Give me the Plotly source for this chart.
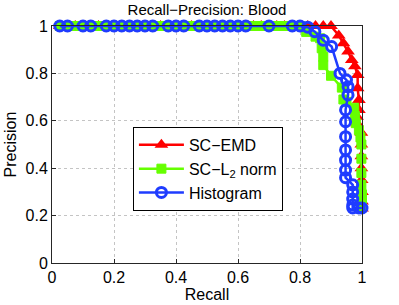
import plotly.graph_objects as go

# ---- data ----
step_r = [round(0.025 * i, 3) for i in range(1, 37)]

emd_recall = step_r + [0.925, 0.94, 0.955, 0.967, 0.977, 0.986, 0.986, 0.99, 0.99, 0.984, 0.984,
                       0.998, 0.998, 0.998, 0.998, 0.999, 1.0, 1.0, 1.0]
emd_prec = [1.0] * 36 + [0.96, 0.927, 0.892, 0.857, 0.83, 0.793, 0.737, 0.688, 0.646, 0.617, 0.59,
                         0.55, 0.5, 0.45, 0.4, 0.35, 0.3, 0.26, 0.23]

l2_recall = [round(0.025 * i, 3) for i in range(1, 33)] + [0.82, 0.85, 0.865, 0.87, 0.875, 0.875, 0.9,
                                                           0.935, 0.94, 0.95, 0.975, 0.977, 0.98, 0.99,
                                                           0.995, 0.998, 0.998, 0.998, 0.998, 1.0, 1.0, 1.0]
l2_prec = [1.0] * 32 + [0.975, 0.955, 0.948, 0.906, 0.87, 0.835, 0.79, 0.74, 0.69, 0.68, 0.655, 0.62,
                        0.59, 0.56, 0.53, 0.5, 0.44, 0.38, 0.33, 0.29, 0.26, 0.235]

hist_recall = [0.025, 0.05, 0.1, 0.125, 0.175, 0.2, 0.225, 0.25, 0.275, 0.3, 0.325, 0.375, 0.4,
               0.425, 0.475, 0.5, 0.525, 0.55, 0.575, 0.6, 0.625, 0.7, 0.775, 0.8,
               0.825, 0.848, 0.875, 0.902, 0.929, 0.95, 0.955, 0.955, 0.947, 0.947, 0.947, 0.947,
               0.947, 0.947, 0.947, 0.97, 0.97, 0.97, 0.97, 0.97, 0.99, 1.0]
hist_prec = [1.0] * 24 + [0.995, 0.976, 0.94, 0.913, 0.80, 0.772, 0.744, 0.709, 0.646, 0.596, 0.533,
                          0.477, 0.434, 0.392, 0.36, 0.33, 0.3, 0.27, 0.245, 0.232, 0.232, 0.232]

ticks = [0, 0.2, 0.4, 0.6, 0.8, 1]
tick_text = ["0", "0.2", "0.4", "0.6", "0.8", "1"]

FONT = "Liberation Sans, Arial, sans-serif"
FS = 16

fig = go.Figure()
fig.add_trace(go.Scatter(
    x=emd_recall, y=emd_prec, name="SC\u2212EMD", mode="lines+markers",
    line=dict(color="#ff0000", width=2.5),
    marker=dict(symbol="triangle-up", size=12, color="#ff0000"),
    cliponaxis=False))
fig.add_trace(go.Scatter(
    x=l2_recall, y=l2_prec, name="SC\u2212L<sub>2</sub> norm", mode="lines+markers",
    line=dict(color="#66ff00", width=2.5),
    marker=dict(symbol="square", size=9, color="#66ff00", line=dict(color="#66ff00", width=1)),
    cliponaxis=False))
fig.add_trace(go.Scatter(
    x=hist_recall, y=hist_prec, name="Histogram", mode="lines+markers",
    line=dict(color="#1f3cff", width=2.5),
    marker=dict(symbol="circle-open", size=10, color="#1f3cff", line=dict(color="#1f3cff", width=3)),
    cliponaxis=False))

axis_common = dict(
    range=[0, 1], tickvals=ticks, ticktext=tick_text, ticks="inside", ticklen=4,
    tickcolor="#262626", showline=True, linecolor="#262626", linewidth=1, mirror=True,
    showgrid=True, gridcolor="#c4c4c4", griddash="dot", gridwidth=1, zeroline=False,
    tickfont=dict(family=FONT, size=FS, color="#000000"), automargin=False,
)

fig.update_layout(
    width=399, height=305,
    margin=dict(l=52, r=37, t=26, b=42, autoexpand=False),
    paper_bgcolor="white", plot_bgcolor="white",
    title=dict(text="Recall\u2212Precision: Blood", x=0.5, xref="paper", y=0.968, yref="container",
               yanchor="middle", font=dict(family=FONT, size=15, color="#000000")),
    xaxis=dict(axis_common, title=dict(text="Recall", font=dict(family=FONT, size=FS, color="#000000"),
                                       standoff=2)),
    yaxis=dict(axis_common, title=dict(text="Precision", font=dict(family=FONT, size=FS, color="#000000"),
                                       standoff=4)),
    legend=dict(x=0.261, y=0.574, xanchor="left", yanchor="top", bgcolor="white",
                bordercolor="#000000", borderwidth=1,
                font=dict(family=FONT, size=FS, color="#000000"),
                tracegroupgap=0, itemwidth=45),
    showlegend=True,
)

fig.write_html("out.html", config={"displayModeBar": False},
               post_script="document.body.style.margin='0';document.body.style.padding='0';")
